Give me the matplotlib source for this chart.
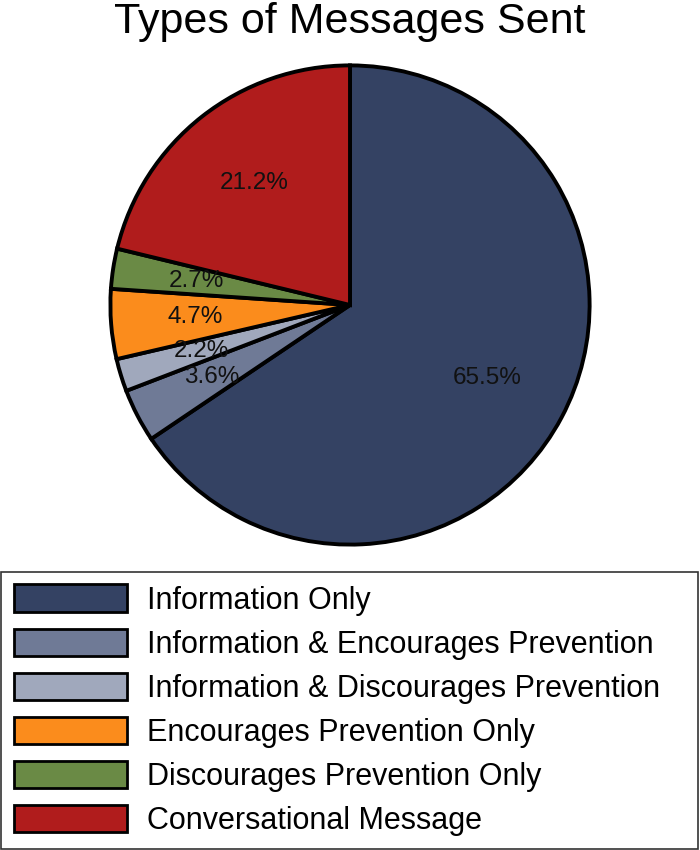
import matplotlib
matplotlib.use("Agg")
import matplotlib.pyplot as plt
from matplotlib.patches import Patch

categories = ["Information Only", "Information & Encourages Prevention",
              "Information & Discourages Prevention", "Encourages Prevention Only",
              "Discourages Prevention Only", "Conversational Message"]
values = [65.5, 3.6, 2.2, 4.7, 2.7, 21.2]
colors = ["#344263", "#6f7a96", "#a0a8bc", "#fb8c1c", "#6a8a45", "#b01c1c"]

plt.rcParams['font.family'] = ['Liberation Sans', 'DejaVu Sans']

total = sum(values)
fig = plt.figure(figsize=(7, 8.5), dpi=100)
ax = fig.add_axes([0.5 - 242/700, 1 - 547/850, 484/700, 484/850])
wedges, texts, autotexts = ax.pie(values, colors=colors, startangle=90, counterclock=False,
                                  autopct=lambda p: f'{p * total / 100:.1f}%', pctdistance=0.65,
                                  wedgeprops=dict(edgecolor='black', linewidth=2.8),
                                  textprops=dict(fontsize=17.5, color='#111111'))
ax.set_xlim(-1.01, 1.01)
ax.set_ylim(-1.01, 1.01)
ax.set_aspect('equal')
fig.text(0.5, 1 - 22/850, "Types of Messages Sent", ha='center', va='center', fontsize=31)

handles = [Patch(facecolor=c, edgecolor='black', linewidth=2) for c in colors]
leg = fig.legend(handles, categories, loc='lower left', bbox_to_anchor=(0.0015, 0.0012, 0.995, 0.32),
                 mode='expand', ncol=1, fontsize=22, frameon=True, fancybox=False, edgecolor='black',
                 handlelength=3.7, handleheight=1.0, labelspacing=0.425, handletextpad=0.65,
                 borderpad=0.42, borderaxespad=0)
leg.get_frame().set_linewidth(1.2)
fig.savefig("out.png", dpi=100)
